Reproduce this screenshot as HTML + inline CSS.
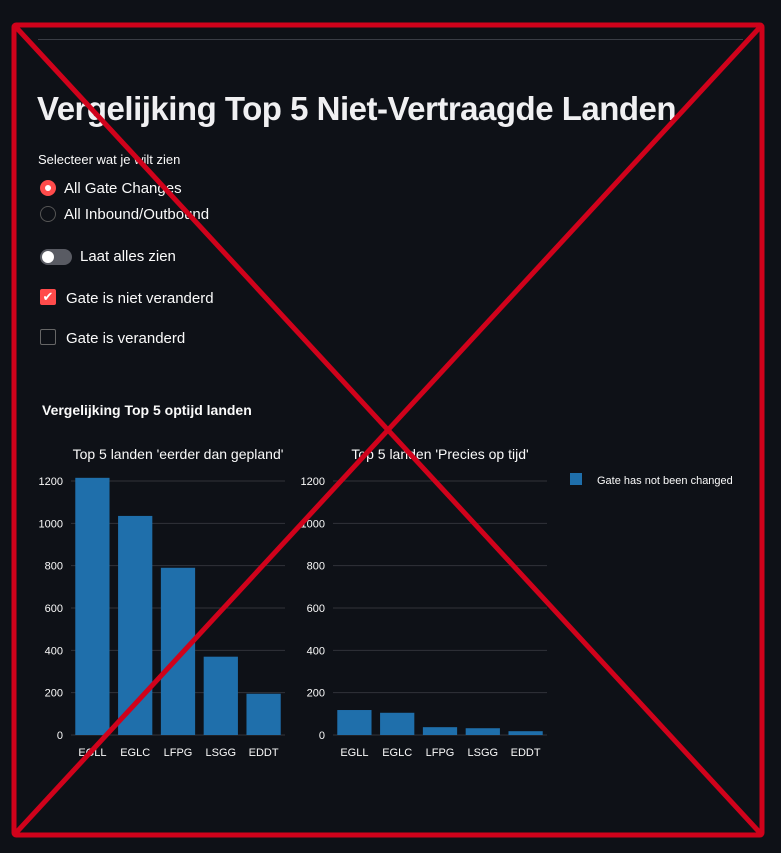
<!DOCTYPE html>
<html><head><meta charset="utf-8"><style>
body{margin:0;width:781px;height:853px;background:#0e1117;overflow:hidden;font-family:"Liberation Sans",sans-serif;color:#fafafa;position:relative}
.abs{position:absolute;white-space:nowrap}
</style></head><body>
<div class="abs" style="left:38px;top:39px;width:705px;height:1px;background:#3a3d45"></div>
<div class="abs" style="left:37px;top:90px;font-size:33px;font-weight:bold;color:#f0f0f2;letter-spacing:-0.5px">Vergelijking Top 5 Niet-Vertraagde Landen</div>
<div class="abs" style="left:38px;top:152px;font-size:13px">Selecteer wat je wilt zien</div>
<div class="abs" style="left:40px;top:180px;width:16px;height:16px;border-radius:50%;background:#ff4b4b"><div style="position:absolute;left:5px;top:5px;width:6px;height:6px;border-radius:50%;background:#fff"></div></div>
<div class="abs" style="left:64px;top:180px;font-size:15px">All Gate Changes</div>
<div class="abs" style="left:40px;top:206px;width:14px;height:14px;border-radius:50%;border:1px solid #555"></div>
<div class="abs" style="left:64px;top:206px;font-size:15px">All Inbound/Outbound</div>
<div class="abs" style="left:40px;top:249px;width:32px;height:16px;border-radius:8px;background:#595b63"><div style="position:absolute;left:2px;top:2px;width:12px;height:12px;border-radius:50%;background:#fff"></div></div>
<div class="abs" style="left:80px;top:248px;font-size:15px">Laat alles zien</div>
<div class="abs" style="left:40px;top:289px;width:16px;height:16px;border-radius:2px;background:#ff4b4b;color:#fff;font-size:13px;line-height:16px;text-align:center">✔</div>
<div class="abs" style="left:66px;top:290px;font-size:15px">Gate is niet veranderd</div>
<div class="abs" style="left:40px;top:329px;width:14px;height:14px;border-radius:2px;border:1px solid #666"></div>
<div class="abs" style="left:66px;top:330px;font-size:15px">Gate is veranderd</div>
<div class="abs" style="left:42px;top:402px;font-size:14px;font-weight:bold">Vergelijking Top 5 optijd landen</div>
<svg id="chart" width="781" height="853" style="position:absolute;left:0;top:0"></svg>
<script>
const categories=["EGLL","EGLC","LFPG","LSGG","EDDT"];
const earlyValues=[1215,1035,790,370,195];
const onTimeValues=[118,105,37,32,18];
const yTicks=[0,200,400,600,800,1000,1200];
const ns="http://www.w3.org/2000/svg";
const svg=document.getElementById("chart");
function mk(t,a,txt){const e=document.createElementNS(ns,t);for(const k in a)e.setAttribute(k,a[k]);if(txt!==undefined)e.textContent=txt;svg.appendChild(e);return e;}
const y0=735,yPerUnit=254/1200;
function yScale(v){return y0-v*yPerUnit;}
function drawPanel(x0,x1,title,vals,pname){
  const t=mk("text",{x:(x0+x1)/2,y:459,"text-anchor":"middle","font-size":14,fill:"#fafafa","font-family":"Liberation Sans, sans-serif"},title);
  
  
  yTicks.forEach(v=>{
    const g=mk("line",{x1:x0,x2:x1,y1:yScale(v),y2:yScale(v),stroke:"#31333a","stroke-width":1});
    
    
    const l=mk("text",{x:x0-8,y:yScale(v)+4,"text-anchor":"end","font-size":11,fill:"#fafafa","font-family":"Liberation Sans, sans-serif"},v);
    
    
  });
  const band=(x1-x0)/categories.length;
  categories.forEach((c,i)=>{
    const bx=x0+band*i+band*0.1,bw=band*0.8;
    const r=mk("rect",{x:bx,y:yScale(vals[i]),width:bw,height:vals[i]*yPerUnit,fill:"#1f6fab"});
    
    
    const l=mk("text",{x:bx+bw/2,y:756,"text-anchor":"middle","font-size":11,fill:"#fafafa","font-family":"Liberation Sans, sans-serif"},c);
    
    
  });
}
drawPanel(71,285,"Top 5 landen 'eerder dan gepland'",earlyValues,"early-chart");
drawPanel(333,547,"Top 5 landen 'Precies op tijd'",onTimeValues,"ontime-chart");
const ls=mk("rect",{x:570,y:473,width:12,height:12,fill:"#1f6fab"});


const lt=mk("text",{x:597,y:484,"font-size":11,fill:"#fafafa","font-family":"Liberation Sans, sans-serif"},"Gate has not been changed");


const fr=mk("rect",{x:14,y:25,width:748,height:810,fill:"none",stroke:"#d0021b","stroke-width":5,rx:2});


const d1=mk("line",{x1:14,y1:25,x2:762,y2:835,stroke:"#d0021b","stroke-width":5});


const d2=mk("line",{x1:762,y1:25,x2:14,y2:835,stroke:"#d0021b","stroke-width":5});


</script>
</body></html>
